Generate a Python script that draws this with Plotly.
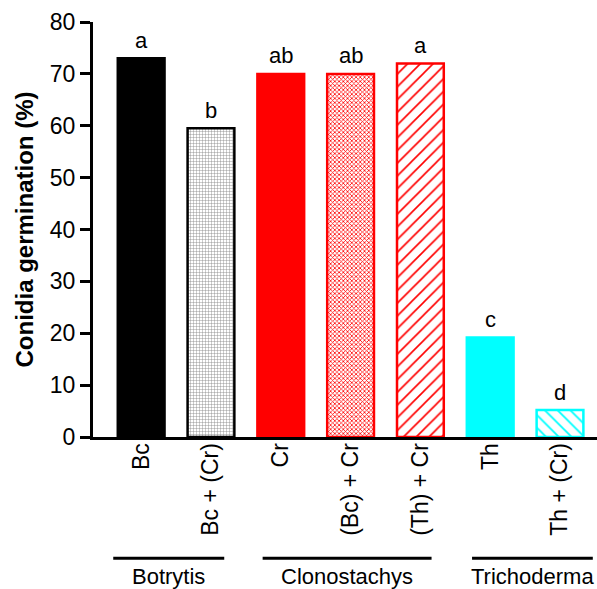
import plotly.graph_objects as go

categories = ["Bc", "Bc + (Cr)", "Cr", "(Bc) + Cr", "(Th) + Cr", "Th", "Th + (Cr)"]
values = [73.0, 59.5, 70.0, 70.0, 72.0, 19.2, 5.2]
letters = ["a", "b", "ab", "ab", "a", "c", "d"]
groups = ["Botrytis", "Clonostachys", "Trichoderma"]
group_spans = [(-0.4, 1.19), (1.74, 4.16), (4.74, 6.47)]

fgcols = ["black", "#808080", "red", "red", "red", "cyan", "cyan"]
bgcols = ["black", "#c8c8c8", "red", "#ffb0b0", "white", "cyan", "white"]
linecols = ["black", "black", "red", "red", "red", "cyan", "cyan"]
shapes_p = ["", "+", "", "x", "/", "", "\\"]
sizes = [8, 3, 8, 3, 9, 8, 9]
solid = [0.3, 0.25, 0.3, 0.45, 0.18, 0.3, 0.2]

FONT = "Liberation Sans, Arial, sans-serif"

fig = go.Figure()
fig.add_trace(go.Bar(
    x=list(range(len(categories))), y=values, width=0.67,
    marker=dict(color=fgcols, line=dict(color=linecols, width=2.5),
                pattern=dict(shape=shapes_p, bgcolor=bgcols, size=sizes, solidity=solid,
                             fillmode="replace")),
    showlegend=False, hoverinfo="skip",
))

for i, (v, t) in enumerate(zip(values, letters)):
    fig.add_annotation(x=i, y=v, text=t, showarrow=False, yshift=18,
                       font=dict(size=22, color="black", family=FONT))

shapes = []
for (a, b), g in zip(group_spans, groups):
    shapes.append(dict(type="line", xref="x", yref="paper", x0=a, x1=b, y0=-0.292, y1=-0.292,
                       line=dict(color="black", width=3)))
    fig.add_annotation(x=(a + b) / 2, xref="x", y=-0.337, yref="paper", text=g, showarrow=False,
                       font=dict(size=22, color="black", family=FONT), yanchor="middle")

fig.update_layout(
    width=597, height=589,
    margin=dict(l=93, r=0, t=22, b=152),
    plot_bgcolor="white", paper_bgcolor="white",
    shapes=shapes,
    font=dict(family=FONT, color="black"),
    xaxis=dict(range=[-0.69, 6.53], tickmode="array", tickvals=list(range(len(categories))),
               ticktext=categories, tickangle=-90, tickfont=dict(size=23, family=FONT),
               ticklabelstandoff=-6,
               showline=True, linecolor="black", linewidth=3, ticks="", showgrid=False,
               zeroline=False),
    yaxis=dict(range=[0, 80], tickvals=[0, 10, 20, 30, 40, 50, 60, 70, 80],
               tickfont=dict(size=23, family=FONT), ticks="outside", ticklen=10, tickwidth=3,
               tickcolor="black", showline=True, linecolor="black", linewidth=3,
               showgrid=False, zeroline=False,
               title=dict(text="<b>Conidia germination (%)</b>",
                          font=dict(size=24, family=FONT),
                          standoff=10)),
)

fig.write_html("out.html", config={"displayModeBar": False},
               post_script="document.body.style.margin='0';document.body.style.overflow='hidden';")
